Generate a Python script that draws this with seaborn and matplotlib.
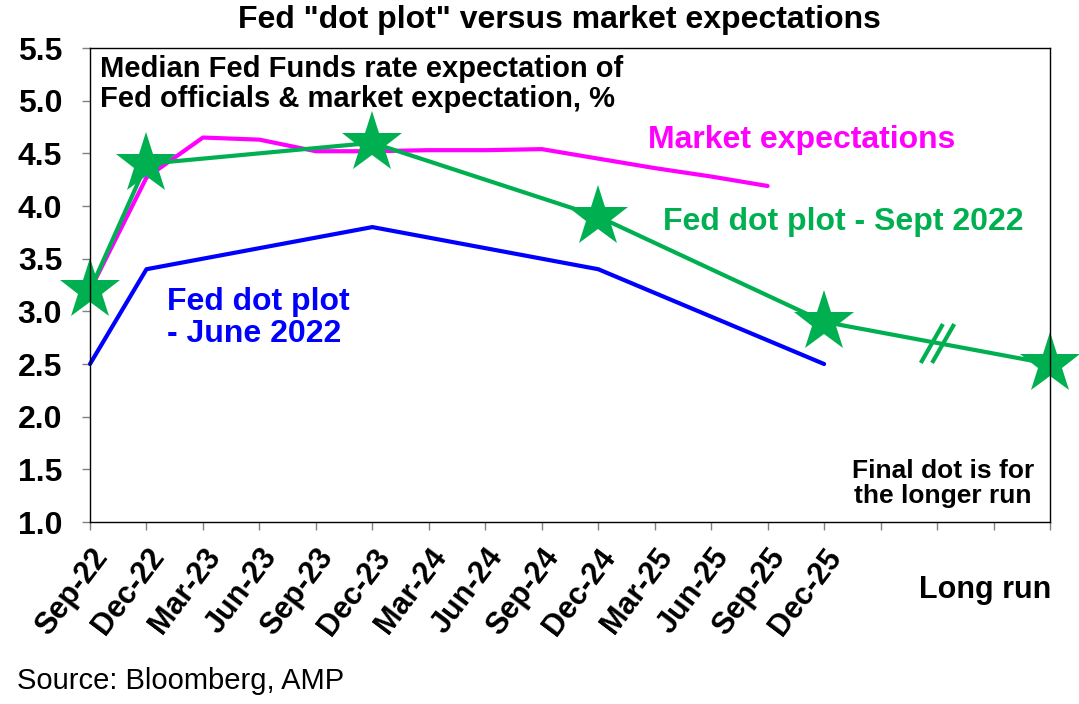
import numpy as np
import matplotlib
matplotlib.use("Agg")
import matplotlib.pyplot as plt
from matplotlib.path import Path
import seaborn as sns

# Data
quarters = ['Sep-22', 'Dec-22', 'Mar-23', 'Jun-23', 'Sep-23', 'Dec-23', 'Mar-24',
            'Jun-24', 'Sep-24', 'Dec-24', 'Mar-25', 'Jun-25', 'Sep-25', 'Dec-25']
extra_slots = ['', '', '', 'Long run']

market_dates = ['Sep-22', 'Dec-22', 'Mar-23', 'Jun-23', 'Sep-23', 'Dec-23', 'Mar-24',
                'Jun-24', 'Sep-24', 'Dec-24', 'Mar-25', 'Jun-25', 'Sep-25']
market_values = [3.2, 4.27, 4.65, 4.63, 4.52, 4.52, 4.53, 4.53, 4.54, 4.45, 4.36, 4.28, 4.19]

june_dates = ['Sep-22', 'Dec-22', 'Dec-23', 'Dec-24', 'Dec-25']
june_values = [2.5, 3.4, 3.8, 3.4, 2.5]

sept_dates = ['Sep-22', 'Dec-22', 'Dec-23', 'Dec-24', 'Dec-25', 'Long run']
sept_values = [3.2, 4.4, 4.6, 3.9, 2.9, 2.5]

slots = quarters + extra_slots
pos = {lab: i for i, lab in enumerate(slots) if lab}

MAGENTA = '#FF00FF'
GREEN = '#00B050'
BLUE = '#0000FF'

sns.set_style('white')
plt.rcParams['font.family'] = ['Liberation Sans', 'DejaVu Sans']
plt.rcParams['font.weight'] = 'bold'
plt.rcParams['text.color'] = 'black'
plt.rcParams['xtick.labelcolor'] = 'black'
plt.rcParams['ytick.labelcolor'] = 'black'

fig = plt.figure(figsize=(10.79, 7.04), dpi=100)
ax = fig.add_axes([0.0834, 0.2585, 0.8897, 0.6733])

sns.lineplot(x=[pos[d] for d in june_dates], y=june_values, color=BLUE,
             linewidth=3, ax=ax, clip_on=False)
sns.lineplot(x=[pos[d] for d in market_dates], y=market_values, color=MAGENTA,
             linewidth=3, ax=ax, clip_on=False)
sns.lineplot(x=[pos[d] for d in sept_dates], y=sept_values, color=GREEN,
             linewidth=3, marker='*', markersize=46, markeredgewidth=0,
             ax=ax, clip_on=False)

# break marks on the long-run segment
brk_x = (pos['Dec-25'] + pos['Long run']) / 2
brk_y = np.interp(brk_x, [pos['Dec-25'], pos['Long run']], sept_values[-2:])
slash = Path([(-0.43, -0.5), (0.14, 0.5), (-0.14, -0.5), (0.43, 0.5)],
             [Path.MOVETO, Path.LINETO, Path.MOVETO, Path.LINETO])
ax.plot([brk_x], [brk_y], marker=slash, markersize=28, markeredgecolor=GREEN,
        markeredgewidth=3, linestyle='none')

ax.set_xlim(0, len(slots) - 1)
ax.set_ylim(1.0, 5.5)
ax.set_yticks(np.arange(1.0, 5.51, 0.5))
ax.set_yticklabels([f'{v:.1f}' for v in np.arange(1.0, 5.51, 0.5)], fontsize=23, fontweight='bold')
ax.set_xticks(range(len(slots)))
ax.set_xticklabels(quarters + [''] * len(extra_slots), fontsize=22, fontweight='bold',
                   rotation=53, ha='right', va='top', rotation_mode='anchor')
ax.tick_params(axis='x', length=6, width=1, color='#808080', pad=9, direction='out', bottom=True)
ax.tick_params(axis='y', length=6, width=1, color='#808080', pad=14, direction='out', left=True)
for s in ax.spines.values():
    s.set_visible(True)
    s.set_color('black')
    s.set_linewidth(1)
ax.set_xlabel('')
ax.set_ylabel('')

ax.text(0.0104, 0.985, 'Median Fed Funds rate expectation of\nFed officials & market expectation, %',
        transform=ax.transAxes, ha='left', va='top', fontsize=21, fontweight='bold',
        linespacing=1.1, color='black')
ax.text(9.88, 4.63, 'Market expectations', color=MAGENTA, fontsize=23,
        fontweight='bold', ha='left', va='center')
ax.text(10.15, 3.85, 'Fed dot plot - Sept 2022', color=GREEN, fontsize=23,
        fontweight='bold', ha='left', va='center')
ax.text(1.36, 2.94, 'Fed dot plot\n- June 2022', color=BLUE, fontsize=23,
        fontweight='bold', ha='left', va='center', linespacing=1.1)
ax.text(15.1, 1.37, 'Final dot is for\nthe longer run', color='black', fontsize=19,
        fontweight='bold', ha='center', va='center', linespacing=1.05)

fig.text(0.5185, 0.9716, 'Fed "dot plot" versus market expectations', ha='center',
         va='center', fontsize=23, fontweight='bold', color='black')
fig.text(0.913, 0.162, 'Long run', ha='center', va='center', fontsize=22,
         fontweight='bold', color='black')
fig.text(0.0158, 0.033, 'Source: Bloomberg, AMP', ha='left', va='center', fontsize=21,
         fontweight='normal', color='black')

fig.savefig('out.png', dpi=100)
